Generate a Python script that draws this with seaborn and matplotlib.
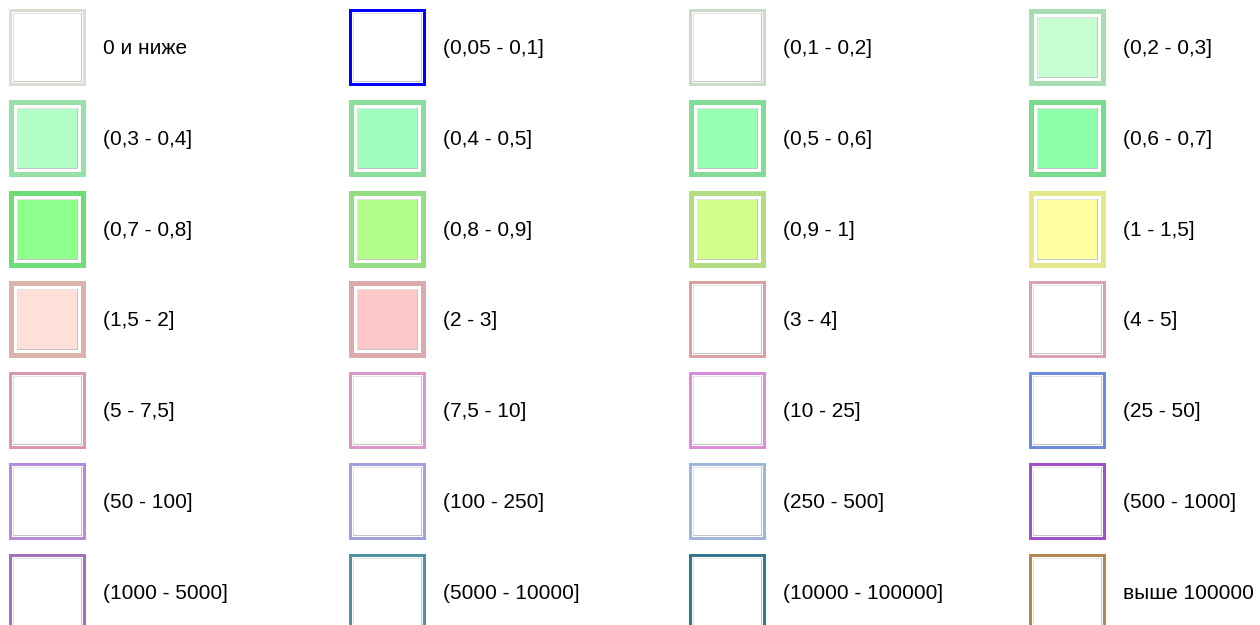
"""
Legend grid of value classes: double-bordered swatches with range labels
"""

import matplotlib
matplotlib.use("Agg")
import matplotlib.pyplot as plt
from matplotlib.patches import Rectangle
import seaborn as sns

# Data: class labels (row by row, 4 per row)
labels = [
    "0 и ниже", "(0,05 - 0,1]", "(0,1 - 0,2]", "(0,2 - 0,3]",
    "(0,3 - 0,4]", "(0,4 - 0,5]", "(0,5 - 0,6]", "(0,6 - 0,7]",
    "(0,7 - 0,8]", "(0,8 - 0,9]", "(0,9 - 1]", "(1 - 1,5]",
    "(1,5 - 2]", "(2 - 3]", "(3 - 4]", "(4 - 5]",
    "(5 - 7,5]", "(7,5 - 10]", "(10 - 25]", "(25 - 50]",
    "(50 - 100]", "(100 - 250]", "(250 - 500]", "(500 - 1000]",
    "(1000 - 5000]", "(5000 - 10000]", "(10000 - 100000]", "выше 100000",
]

fill_colors = [
    "#ffffff", "#ffffff", "#ffffff", "#c8ffd2",
    "#b4ffc8", "#a0ffbe", "#96ffb4", "#8cffaa",
    "#8cff8c", "#b4ff8c", "#d2ff8c", "#ffffa0",
    "#ffe0d8", "#ffc8c8", "#ffffff", "#ffffff",
    "#ffffff", "#ffffff", "#ffffff", "#ffffff",
    "#ffffff", "#ffffff", "#ffffff", "#ffffff",
    "#ffffff", "#ffffff", "#ffffff", "#ffffff",
]

border_colors = [
    "#dcdcd2", "#0000ff", "#c8dcc8", "#a8dcb4",
    "#9adea8", "#8cdc9c", "#82dc96", "#78dc8c",
    "#6edc78", "#96dc82", "#b4dc82", "#e6e68c",
    "#dcb4aa", "#dcaaaa", "#dca0a0", "#dca0b4",
    "#dc96b4", "#dc96c8", "#dc8cdc", "#6e8cdc",
    "#b48cdc", "#a0a0dc", "#a0b4dc", "#a050c8",
    "#a070b8", "#5090a0", "#307890", "#b08850",
]

# thick outer frame for the filled classes
thick_frame = [c != "#ffffff" for c in fill_colors]

# Layout (pixels)
W, H = 1260, 625
N_COLS = 4
SIZE = 77
X0, Y0 = 9, 9
COL_STEP = 340
ROW_STEP = 90.8
TEXT_OFFSET = 94


def draw_swatch(ax, x, y, fill, border, thick):
    """Outer colored frame, white gap, thin bevelled inner frame, fill"""
    w = 5 if thick else 3
    gap = 3 if thick else 1
    ax.add_patch(Rectangle((x, y), SIZE, SIZE, fc=border, ec="none"))
    ax.add_patch(Rectangle((x + w, y + w), SIZE - 2 * w, SIZE - 2 * w,
                           fc="white", ec="none"))
    g = w + gap
    inner = SIZE - 2 * g
    # darker bottom/right, lighter top/left
    ax.add_patch(Rectangle((x + g, y + g), inner, inner, fc="#c4c4c4", ec="none"))
    ax.add_patch(Rectangle((x + g, y + g), inner - 1, inner - 1, fc="#e2e2e2", ec="none"))
    ax.add_patch(Rectangle((x + g + 1, y + g + 1), inner - 2, inner - 2,
                           fc=fill, ec="none"))


def main():
    sns.set_theme(style="white")
    plt.rcParams['font.family'] = ['Liberation Sans', 'DejaVu Sans']

    fig = plt.figure(figsize=(W / 100, H / 100), dpi=100)
    ax = fig.add_axes([0, 0, 1, 1])
    ax.set_xlim(0, W)
    ax.set_ylim(H, 0)
    ax.axis("off")

    for i, label in enumerate(labels):
        r, c = divmod(i, N_COLS)
        x = X0 + COL_STEP * c
        y = Y0 + ROW_STEP * r
        draw_swatch(ax, x, y, fill_colors[i], border_colors[i], thick_frame[i])
        ax.text(x + TEXT_OFFSET, y + SIZE / 2 + 1, label,
                ha="left", va="center", fontsize=15, color="black")

    fig.savefig("out.png", dpi=100, facecolor="white")
    plt.close(fig)


if __name__ == "__main__":
    main()
